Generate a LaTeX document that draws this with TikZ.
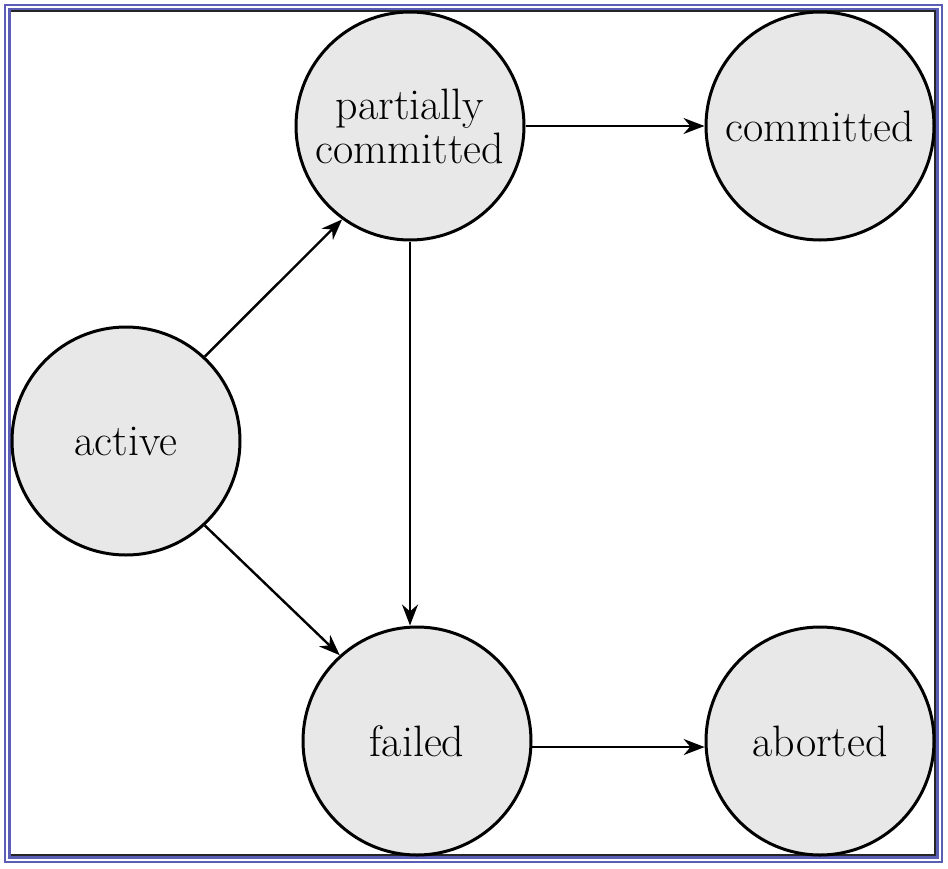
\documentclass[tikz,border=0pt]{standalone}
\usetikzlibrary{arrows.meta}
\definecolor{framebl}{RGB}{92,94,182}
\definecolor{statefill}{RGB}{232,232,232}
\begin{document}
\begin{tikzpicture}[x=1pt,y=-1pt,
  state/.style={circle,draw=black,fill=statefill,line width=3pt,minimum size=228pt,inner sep=0pt,
    align=center,font=\fontsize{44}{44}\selectfont},
  conn/.style={line width=2.4pt,-{Stealth[length=21pt,width=16pt]}},
  hconn/.style={line width=2pt,-{Stealth[length=21pt,width=16pt]}}]
\useasboundingbox (0,0) rectangle (948,868);
% frame
\draw[framebl,line width=2pt] (5,5) rectangle (942,862);
\draw[framebl,line width=2.5pt] (9.5,9.5) rectangle (937.5,857.5);
\draw[black!85,line width=1.5pt] (11,11) -- (935,11) -- (935,855) -- (11,855);
% states
\node[state] (partial) at (410,126) {partially\\committed};
\node[state] (committed) at (820,126) {committed};
\node[state] (active) at (126,441) {active};
\node[state] (failed) at (417,741) {failed};
\node[state] (aborted) at (820,741) {aborted};
% transitions
\draw[conn] (active.47) -- (partial.234);
\draw[conn] (active.-47) -- (failed.132);
\draw[hconn] (partial.east) -- (committed.west);
\draw[hconn] (partial.south) -- (failed.north -| partial.south);
\draw[hconn] (failed.-3) -- (aborted.183);
\end{tikzpicture}
\end{document}
